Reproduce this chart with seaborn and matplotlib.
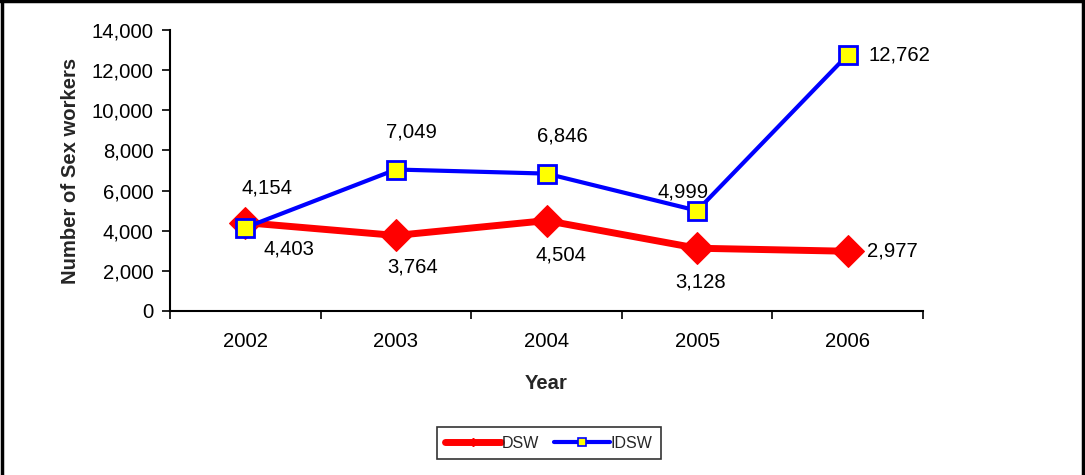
import matplotlib
matplotlib.use("Agg")
import matplotlib.pyplot as plt
from matplotlib.lines import Line2D
from matplotlib.ticker import FuncFormatter, MultipleLocator
import seaborn as sns
import pandas as pd

years = ["2002", "2003", "2004", "2005", "2006"]
dsw = [4403, 3764, 4504, 3128, 2977]
idsw = [4154, 7049, 6846, 4999, 12762]

# label offsets in pixels (dx, dy upward); last label is left-aligned beside the marker
dsw_offsets = [(44, -26), (17, -32), (14, -34), (3, -34), (19, 0)]
idsw_offsets = [(22, 40), (16, 38), (16, 38), (-14, 19), (21, 0)]

sns.set_theme(style="white")
plt.rcParams["font.family"] = ["Liberation Sans", "DejaVu Sans"]

FS = 14.6
DPI = 100
fig = plt.figure(figsize=(10.85, 4.75), dpi=DPI)
ax = fig.add_axes([170 / 1085, 1 - 311 / 475, (923 - 170) / 1085, (311 - 30) / 475])

df = pd.DataFrame({"Year": years, "DSW": dsw, "IDSW": idsw})
sns.lineplot(data=df, x="Year", y="DSW", ax=ax, color="#ff0000", lw=5,
             marker="D", markersize=16, markeredgecolor="#ff0000",
             markerfacecolor="#ff0000", zorder=3, sort=False)
sns.lineplot(data=df, x="Year", y="IDSW", ax=ax, color="#0000ff", lw=3,
             marker="s", markersize=13, markeredgecolor="#0000ff",
             markeredgewidth=2, markerfacecolor="#ffff00", zorder=4, sort=False)

px = 72 / DPI
for series, offsets in ((dsw, dsw_offsets), (idsw, idsw_offsets)):
    for i, (v, (dx, dy)) in enumerate(zip(series, offsets)):
        ha = "left" if i == len(series) - 1 else "center"
        ax.annotate(f"{v:,}", (i, v), xytext=(dx * px, dy * px), textcoords="offset points",
                    ha=ha, va="center", fontsize=FS, color="black")

ax.set_xlim(-0.5, 4.5)
ax.set_ylim(0, 14000)
ax.yaxis.set_major_locator(MultipleLocator(2000))
ax.yaxis.set_major_formatter(FuncFormatter(lambda v, p: f"{int(v):,}"))
ax.set_xticks(range(len(years)))
ax.set_xticklabels(years)
ax.set_xticks([x - 0.5 for x in range(len(years) + 1)], minor=True)

for side in ["top", "right"]:
    ax.spines[side].set_visible(False)
for side in ["left", "bottom"]:
    ax.spines[side].set_color("black")
    ax.spines[side].set_linewidth(1.5)

ax.tick_params(axis="y", which="major", direction="out", length=6, width=1.2,
               colors="black", labelsize=FS, left=True, pad=6)
ax.tick_params(axis="x", which="major", length=0, labelsize=FS, pad=15, colors="black")
ax.tick_params(axis="x", which="minor", direction="out", length=6, width=1.2,
               colors="black", bottom=True)

ax.set_xlabel("Year", fontsize=FS, fontweight="bold", labelpad=17)
ax.set_ylabel("Number of Sex workers", fontsize=FS, fontweight="bold", labelpad=8)

handles = [
    Line2D([], [], color="#ff0000", lw=5, marker="D", markersize=4,
           markerfacecolor="#ff0000", markeredgecolor="#ff0000"),
    Line2D([], [], color="#0000ff", lw=3, marker="s", markersize=6,
           markerfacecolor="#ffff00", markeredgecolor="#0000ff", markeredgewidth=1.2),
]
leg = fig.legend(handles, ["DSW", "IDSW"], loc="center",
                 bbox_to_anchor=(549 / 1085, 1 - 443 / 475), ncol=2,
                 fontsize=11.5, frameon=True, fancybox=False, numpoints=1,
                 handlelength=3.5, handletextpad=0.05, columnspacing=0.9,
                 borderpad=0.55, borderaxespad=0)
leg.get_frame().set_edgecolor("black")
leg.get_frame().set_linewidth(1.2)

# frame around the figure (left, top, right edges)
fig.add_artist(Line2D([0.002, 0.002], [0, 1], transform=fig.transFigure, color="black", lw=2.5))
fig.add_artist(Line2D([0, 1], [0.997, 0.997], transform=fig.transFigure, color="black", lw=2.5))
fig.add_artist(Line2D([0.9985, 0.9985], [0, 1], transform=fig.transFigure, color="black", lw=2.5))

fig.savefig("out.png", dpi=DPI, facecolor="white")
